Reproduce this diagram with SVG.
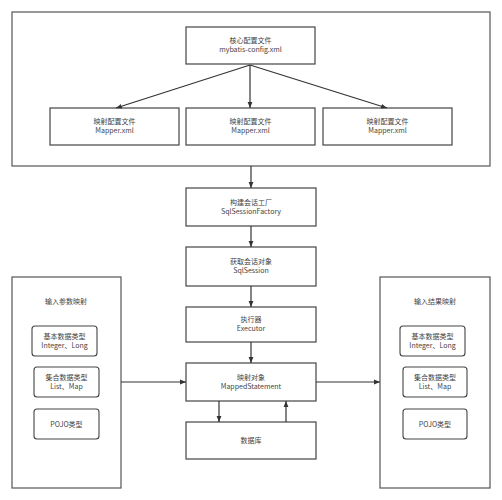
<svg xmlns="http://www.w3.org/2000/svg" width="502" height="500" viewBox="0 0 502 500">
<defs>
<marker id="ah" viewBox="0 0 10 10" refX="10" refY="5" markerWidth="6" markerHeight="6" orient="auto" markerUnits="userSpaceOnUse">
<path d="M0,1 L10,5 L0,9 z" fill="#333"/>
</marker>
<style>
.box{fill:#fff;stroke:#444;stroke-width:1.2}
.grp{fill:#fff;stroke:#555;stroke-width:1.2}
.rbox{fill:#fff;stroke:#444;stroke-width:1.1}
.t{font-family:"Noto Sans CJK SC","Noto Sans",sans-serif;font-size:7px;fill:#444;text-anchor:middle}
.c{stroke:#333;stroke-width:1.2;fill:none;marker-end:url(#ah)}
.l{stroke:#333;stroke-width:1.2;fill:none}
</style>
</defs>
<rect width="502" height="500" fill="#fff"/>
<g id="config-group"><rect class="grp" x="12" y="12" width="478" height="154"/></g>
<g id="input-group"><rect class="grp" x="12" y="277" width="109" height="211"/><text class="t" x="66" y="304">输入参数映射</text></g>
<g id="output-group"><rect class="grp" x="380" y="277" width="110" height="211"/><text class="t" x="435" y="304">输入结果映射</text></g>
<g id="core"><rect class="box" x="186" y="27" width="129" height="37"/><text class="t" x="250.5" y="43">核心配置文件</text><text class="t" x="250.5" y="52">mybatis-config.xml</text></g>
<g id="mapper1"><rect class="box" x="50" y="108" width="129" height="37"/><text class="t" x="114.5" y="124">映射配置文件</text><text class="t" x="114.5" y="133">Mapper.xml</text></g>
<g id="mapper2"><rect class="box" x="186" y="108" width="129" height="37"/><text class="t" x="250.5" y="124">映射配置文件</text><text class="t" x="250.5" y="133">Mapper.xml</text></g>
<g id="mapper3"><rect class="box" x="323" y="108" width="129" height="37"/><text class="t" x="387.5" y="124">映射配置文件</text><text class="t" x="387.5" y="133">Mapper.xml</text></g>
<g id="factory"><rect class="box" x="186" y="188" width="130" height="38"/><text class="t" x="251" y="205">构建会话工厂</text><text class="t" x="251" y="214">SqlSessionFactory</text></g>
<g id="session"><rect class="box" x="186" y="247" width="130" height="39"/><text class="t" x="251" y="264">获取会话对象</text><text class="t" x="251" y="273">SqlSession</text></g>
<g id="executor"><rect class="box" x="186" y="307" width="130" height="35"/><text class="t" x="251" y="322">执行器</text><text class="t" x="251" y="331">Executor</text></g>
<g id="mapped"><rect class="box" x="186" y="363" width="130" height="38"/><text class="t" x="251" y="380">映射对象</text><text class="t" x="251" y="389">MappedStatement</text></g>
<g id="db"><rect class="box" x="186" y="422" width="130" height="37"/><text class="t" x="251" y="443">数据库</text></g>
<g id="in-basic"><rect class="rbox" x="32" y="326" width="65" height="30" rx="3"/><text class="t" x="64.5" y="339">基本数据类型</text><text class="t" x="64.5" y="348">Integer、Long</text></g>
<g id="in-coll"><rect class="rbox" x="34" y="367" width="65" height="30" rx="3"/><text class="t" x="66.5" y="380">集合数据类型</text><text class="t" x="66.5" y="389">List、Map</text></g>
<g id="in-pojo"><rect class="rbox" x="34" y="409" width="65" height="30" rx="3"/><text class="t" x="66.5" y="426.5">POJO类型</text></g>
<g id="out-basic"><rect class="rbox" x="400" y="326" width="65" height="30" rx="3"/><text class="t" x="432.5" y="339">基本数据类型</text><text class="t" x="432.5" y="348">Integer、Long</text></g>
<g id="out-coll"><rect class="rbox" x="403" y="367" width="64" height="30" rx="3"/><text class="t" x="435" y="380">集合数据类型</text><text class="t" x="435" y="389">List、Map</text></g>
<g id="out-pojo"><rect class="rbox" x="403" y="409" width="64" height="30" rx="3"/><text class="t" x="435" y="426.5">POJO类型</text></g>
<g id="connectors">
<path class="c" d="M250,65 L116,108"/>
<path class="c" d="M250,65 L250,108"/>
<path class="c" d="M250,65 L387,108"/>
<path class="c" d="M251,166 L251,188"/>
<path class="c" d="M251,226 L251,247"/>
<path class="c" d="M251,286 L251,307"/>
<path class="c" d="M251,342 L251,363"/>
<path class="c" d="M121,382 L186,382"/>
<path class="c" d="M316,382 L380,382"/>
<path class="c" d="M219,401 L219,422"/>
<path class="c" d="M286,422 L286,401"/>
</g>
</svg>
